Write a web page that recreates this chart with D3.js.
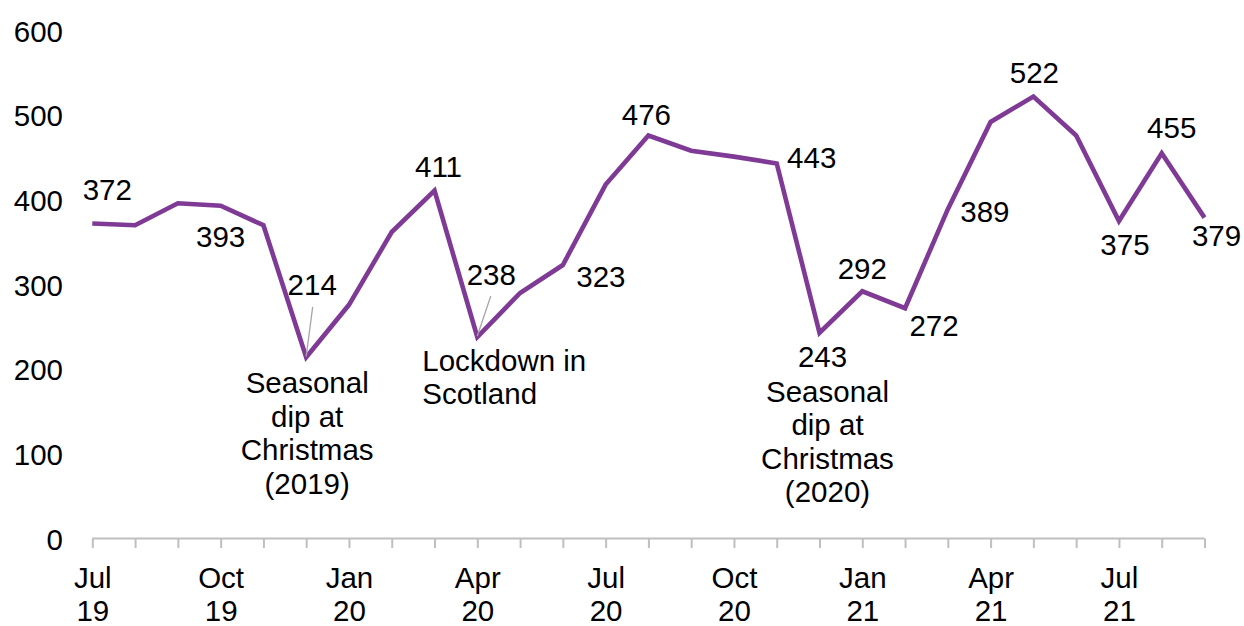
<!DOCTYPE html>
<html>
<head>
<meta charset="utf-8">
<script src="https://cdn.jsdelivr.net/npm/d3@7"></script>
<style>
  html, body { margin: 0; padding: 0; background: #fff; }
  svg { display: block; font-family: "Liberation Sans", Arial, sans-serif; }
</style>
</head>
<body>
<svg id="chart" width="1244" height="626"></svg>
<script>
// Monthly counts, July 2019 to September 2021
const months = ["Jul 19","Aug 19","Sep 19","Oct 19","Nov 19","Dec 19",
  "Jan 20","Feb 20","Mar 20","Apr 20","May 20","Jun 20","Jul 20","Aug 20","Sep 20","Oct 20","Nov 20","Dec 20",
  "Jan 21","Feb 21","Mar 21","Apr 21","May 21","Jun 21","Jul 21","Aug 21","Sep 21"];
const counts = [372, 370, 396, 393, 370, 214,
  276, 362, 411, 238, 290, 323, 418, 476, 458, 451, 443, 243,
  292, 272, 389, 492, 522, 476, 375, 455, 379];

// Months whose value is printed beside the line
const labelledMonths = ["Jul 19","Oct 19","Dec 19","Mar 20","Apr 20","Jun 20","Aug 20","Nov 20",
  "Dec 20","Jan 21","Feb 21","Mar 21","May 21","Jul 21","Aug 21","Sep 21"];

// Months shown on the x axis (every month gets a tick)
const axisMonths = ["Jul 19","Oct 19","Jan 20","Apr 20","Jul 20","Oct 20","Jan 21","Apr 21","Jul 21"];

const yTicks = [0, 100, 200, 300, 400, 500, 600];

// Text notes attached to points
const noteMonths = ["Dec 19", "Apr 20", "Dec 20"];
const noteTexts = [
  ["Seasonal", "dip at", "Christmas", "(2019)"],
  ["Lockdown in", "Scotland"],
  ["Seasonal", "dip at", "Christmas", "(2020)"]
];

// ---- layout ----
const FONT = 29.5;
const LINE_H = 33.5;
const purple = "#7f3a96";

// value label placement relative to its point: [dx, dy of baseline]
const labelOffset = {
  "Jul 19": [15, -24], "Oct 19": [0, 41], "Dec 19": [6, -62], "Mar 20": [4, -14],
  "Apr 20": [14, -52], "Jun 20": [38, 22], "Aug 20": [-2, -10], "Nov 20": [35, 5],
  "Dec 20": [3, 34], "Jan 21": [0, -12], "Feb 21": [29, 28], "Mar 21": [37, 13],
  "May 21": [1, -14], "Jul 21": [6, 34], "Aug 21": [10, -15], "Sep 21": [12, 28]
};
// note placement: [dx, dy of first baseline, anchor]
const noteOffset = {
  "Dec 19": [1, 36, "middle"],
  "Apr 20": [-55, 34, "start"],
  "Dec 20": [8, 69, "middle"]
};
// leader lines from value label to point: [x1 offset, y1 offset]
const leaderStart = { "Dec 19": [6.5, -50.5], "Apr 20": [13.5, -41] };

const svg = d3.select("#chart");

const x = d3.scalePoint().domain(months).range([92.3, 1204.5]);
const y = d3.scaleLinear().domain([0, 600]).range([538.5, 30.5]);

// y axis: labels only
const yAxis = svg.append("g")
  .attr("transform", "translate(63,0)")
  .call(d3.axisLeft(y).tickValues(yTicks).tickSize(0).tickPadding(0));
yAxis.select(".domain").remove();
yAxis.selectAll("text")
  .attr("font-size", FONT)
  .attr("font-family", "'Liberation Sans', Arial, sans-serif")
  .attr("fill", "#000")
  .attr("dy", "0.36em");

// x axis: tick at every month, two-line labels at quarter months
const xAxis = svg.append("g")
  .attr("transform", `translate(0,${y(0)})`)
  .call(d3.axisBottom(x).tickSize(9.5).tickSizeOuter(0)
    .tickFormat(d => axisMonths.includes(d) ? d : ""));
xAxis.select(".domain").attr("stroke", "#bfbfbf").attr("stroke-width", 2)
  .attr("d", `M${x(months[0])},0H${x(months[months.length - 1])}`);
xAxis.selectAll(".tick line").attr("stroke", "#bfbfbf").attr("stroke-width", 2);
xAxis.selectAll(".tick text").each(function(d) {
  const t = d3.select(this);
  t.text(null)
    .attr("font-size", FONT)
    .attr("font-family", "'Liberation Sans', Arial, sans-serif")
    .attr("fill", "#000")
    .attr("y", 0).attr("dy", null);
  if (!axisMonths.includes(d)) return;
  const parts = d.split(" ");
  parts.forEach((p, i) => {
    t.append("tspan").attr("x", 0).attr("y", 49 + i * LINE_H).text(p);
  });
});

// data line
const data = months.map((m, i) => ({ m, v: counts[i] }));
svg.append("path")
  .datum(data)
  .attr("fill", "none")
  .attr("stroke", purple)
  .attr("stroke-width", 4.6)
  .attr("stroke-linejoin", "miter")
  .attr("d", d3.line().x(d => x(d.m)).y(d => y(d.v)));

// leader lines
Object.keys(leaderStart).forEach(m => {
  const v = counts[months.indexOf(m)];
  const [ox, oy] = leaderStart[m];
  svg.append("line")
    .attr("x1", x(m) + ox).attr("y1", y(v) + oy)
    .attr("x2", x(m)).attr("y2", y(v) - 1)
    .attr("stroke", "#a6a6a6").attr("stroke-width", 1.3);
});

// value labels
svg.append("g").selectAll("text")
  .data(labelledMonths)
  .join("text")
  .attr("x", m => x(m) + labelOffset[m][0])
  .attr("y", m => y(counts[months.indexOf(m)]) + labelOffset[m][1])
  .attr("text-anchor", "middle")
  .attr("font-size", FONT)
  .attr("fill", "#000")
  .text(m => counts[months.indexOf(m)]);

// notes
noteMonths.forEach((m, k) => {
  const v = counts[months.indexOf(m)];
  const [dx, dy, anchor] = noteOffset[m];
  const t = svg.append("text")
    .attr("text-anchor", anchor)
    .attr("font-size", FONT)
    .attr("fill", "#000");
  noteTexts[k].forEach((line, i) => {
    t.append("tspan")
      .attr("x", x(m) + dx)
      .attr("y", y(v) + dy + i * LINE_H)
      .text(line);
  });
});
</script>
</body>
</html>
